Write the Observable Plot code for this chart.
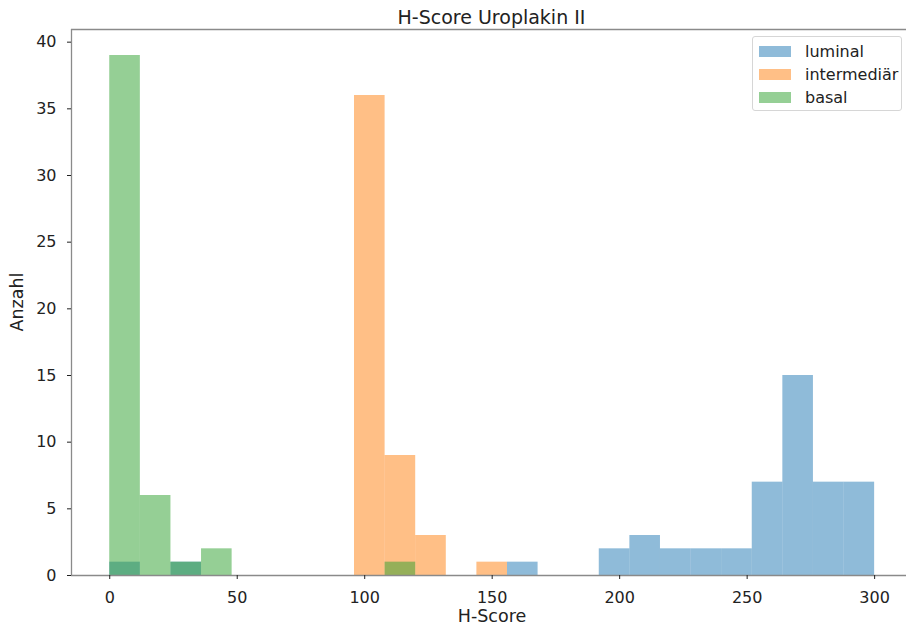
<!DOCTYPE html>
<html><head><meta charset="utf-8">
<script src="https://cdn.jsdelivr.net/npm/d3@7"></script>
<script src="https://cdn.jsdelivr.net/npm/@observablehq/plot@0.6"></script>
<style>
body{margin:0;background:#fff;font-family:"DejaVu Sans",sans-serif;color:#222}
#wrap{position:relative;width:906px;height:627px;overflow:hidden}
#wrap svg{position:absolute;left:0;top:0}
.title{position:absolute;left:491.5px;top:8px;transform:translateX(-50%);font-size:19px;line-height:19px;white-space:nowrap}
.xlab{position:absolute;left:492px;top:608px;transform:translateX(-50%);font-size:17.5px;line-height:17.5px;white-space:nowrap}
.ylab{position:absolute;left:18px;top:302px;transform:translate(-50%,-50%) rotate(-90deg);font-size:17.5px;line-height:17.5px;white-space:nowrap}
.legend{position:absolute;left:752px;top:36px;width:150px;height:75px;border:1px solid #d6d6d6;border-radius:3px;background:rgba(255,255,255,0.8);box-sizing:border-box}
.row{position:absolute;left:0;height:20px;display:flex;align-items:center;font-size:16px;white-space:nowrap}
.patch{width:32px;height:11px;margin-left:6px;margin-right:14px}
</style></head><body><div id="wrap"></div>
<script>
const title = "H-Score Uroplakin II";
const xLabel = "H-Score";
const yLabel = "Anzahl";
const seriesNames = ["luminal", "intermediär", "basal"];
const seriesColors = ["#1f77b4", "#ff7f0e", "#2ca02c"];
const binWidth = 12;
const luminalBins = [0, 24, 156, 192, 204, 216, 228, 240, 252, 264, 276, 288];
const luminalCounts = [1, 1, 1, 2, 3, 2, 2, 2, 7, 15, 7, 7];
const intermediarBins = [96, 108, 120, 144];
const intermediarCounts = [36, 9, 3, 1];
const basalBins = [0, 12, 24, 36, 108];
const basalCounts = [39, 6, 1, 2, 1];
const xTicks = [0, 50, 100, 150, 200, 250, 300];
const yTicks = [0, 5, 10, 15, 20, 25, 30, 35, 40];

const seriesBins = [luminalBins, intermediarBins, basalBins];
const seriesCounts = [luminalCounts, intermediarCounts, basalCounts];

const rects = [];
seriesNames.forEach((name, si) => {
  seriesBins[si].forEach((b, i) => {
    rects.push({series: name, order: si, x1: b, x2: b + binWidth, y: seriesCounts[si][i]});
  });
});

const plot = Plot.plot({
  width: 906,
  height: 627,
  marginLeft: 71,
  marginRight: 0,
  marginTop: 29,
  marginBottom: 52,
  style: {fontSize: "16px", fontFamily: "DejaVu Sans", color: "#222", background: "transparent"},
  x: {domain: [-15, 312.5], label: null},
  y: {domain: [0, 40.95], label: null},
  color: {domain: seriesNames, range: seriesColors},
  marks: [
    Plot.rectY(rects, {x1: "x1", x2: "x2", y1: 0, y2: "y", fill: "series", fillOpacity: 0.5, inset: 0}),
    Plot.ruleY([0, 40.95], {stroke: "#8a8a8a", strokeWidth: 1.3}),
    Plot.ruleX([-15], {stroke: "#8a8a8a", strokeWidth: 1.3}),
    Plot.axisX(xTicks, {tickSize: 4, tickPadding: 12, label: null, stroke: "#222"}),
    Plot.axisY(yTicks, {tickSize: 4, tickPadding: 11, label: null, stroke: "#222"})
  ]
});

const wrap = document.getElementById("wrap");
wrap.appendChild(plot);

function addDiv(cls, text) {
  const d = document.createElement("div");
  d.className = cls;
  if (text != null) d.textContent = text;
  wrap.appendChild(d);
  return d;
}
addDiv("title", title);
addDiv("xlab", xLabel);
addDiv("ylab", yLabel);
const leg = addDiv("legend");
seriesNames.forEach((name, i) => {
  const row = document.createElement("div");
  row.className = "row";
  row.style.top = (4 + i * 23) + "px";
  const p = document.createElement("div");
  p.className = "patch";
  p.style.background = seriesColors[i];
  p.style.opacity = 0.5;
  const t = document.createElement("span");
  t.textContent = name;
  row.appendChild(p);
  row.appendChild(t);
  leg.appendChild(row);
});
</script></body></html>
